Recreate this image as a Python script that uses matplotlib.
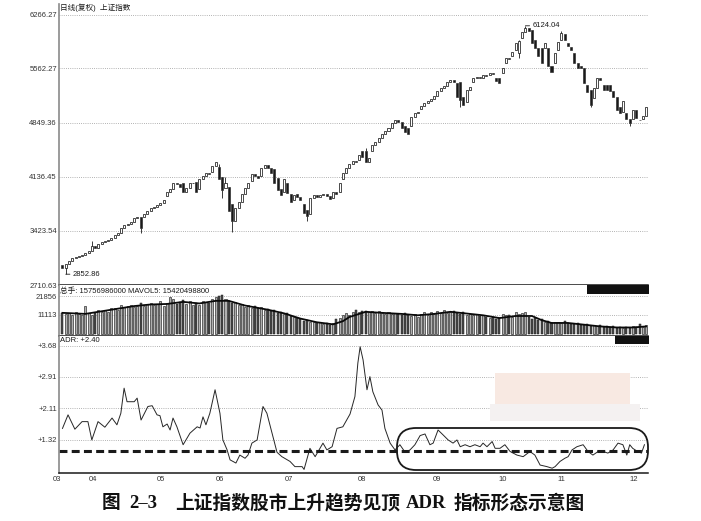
import numpy as np
import matplotlib.pyplot as plt
from matplotlib.patches import FancyBboxPatch, Rectangle

plt.rcParams['font.family'] = ['Liberation Sans', 'Noto Sans CJK SC', 'DejaVu Sans']

# daily candles, Shanghai Composite
opens = [2980, 2930, 2990, 3030, 3060, 3080, 3095, 3110, 3130, 3160,
         3230, 3200, 3250, 3275, 3290, 3300, 3330, 3370, 3400, 3460,
         3500, 3520, 3545, 3590, 3600, 3600, 3640, 3690, 3720, 3740,
         3760, 3790, 3880, 3930, 3980, 4050, 4040, 4050, 3940, 3990,
         4050, 4070, 3980, 4100, 4150, 4180, 4200, 4280, 4260, 4130,
         3990, 4000, 3780, 3560, 3730, 3800, 3910, 3990, 4080, 4170,
         4150, 4150, 4250, 4290, 4250, 4240, 4120, 3980, 3930, 4050,
         3910, 3830, 3910, 3870, 3780, 3700, 3650, 3860, 3890, 3870,
         3890, 3910, 3880, 3850, 3930, 3930, 4110, 4190, 4250, 4300,
         4350, 4360, 4470, 4480, 4330, 4480, 4560, 4600, 4650, 4700,
         4740, 4780, 4840, 4880, 4860, 4800, 4780, 4800, 4920, 4970,
         5030, 5070, 5110, 5140, 5160, 5200, 5260, 5300, 5330, 5380,
         5410, 5370, 5380, 5180, 5120, 5276, 5380, 5434, 5448, 5440,
         5474, 5470, 5500, 5440, 5430, 5500, 5640, 5700, 5720, 5800,
         5760, 5960, 6040, 6100, 6070, 5935, 5830, 5830, 5830, 5830,
         5600, 5640, 5800, 5935, 6020, 5900, 5840, 5760, 5630, 5600,
         5570, 5340, 5276, 5170, 5300, 5430, 5340, 5340, 5340, 5260,
         5180, 5050, 4985, 4970, 4900, 4900, 5010, 4890, 4900, 4940]
closes = [2930, 2990, 3030, 3060, 3080, 3095, 3110, 3130, 3160, 3230,
          3200, 3250, 3275, 3290, 3300, 3330, 3370, 3400, 3460, 3500,
          3520, 3545, 3590, 3610, 3460, 3640, 3690, 3720, 3740, 3760,
          3790, 3830, 3930, 3980, 4050, 4040, 4000, 3930, 3990, 4050,
          4060, 3940, 4100, 4150, 4180, 4170, 4280, 4330, 4100, 3960,
          4050, 3680, 3560, 3730, 3800, 3910, 3990, 4060, 4170, 4150,
          4120, 4250, 4290, 4250, 4190, 4060, 3960, 3890, 4100, 3920,
          3800, 3890, 3870, 3830, 3660, 3620, 3860, 3890, 3870, 3890,
          3910, 3880, 3840, 3930, 3910, 4060, 4190, 4250, 4300, 4350,
          4330, 4420, 4390, 4330, 4380, 4560, 4600, 4650, 4700, 4740,
          4780, 4840, 4880, 4860, 4780, 4720, 4700, 4920, 4970, 4990,
          5070, 5110, 5140, 5160, 5200, 5260, 5300, 5330, 5380, 5410,
          5390, 5180, 5150, 5080, 5276, 5316, 5434, 5448, 5430, 5474,
          5460, 5500, 5490, 5400, 5370, 5570, 5700, 5690, 5780, 5896,
          5930, 6040, 6090, 6060, 5900, 5830, 5720, 5640, 5896, 5590,
          5520, 5760, 5910, 6030, 5940, 5860, 5800, 5640, 5570, 5570,
          5370, 5250, 5080, 5300, 5430, 5408, 5276, 5280, 5260, 5180,
          5010, 4970, 5140, 4900, 4840, 5010, 4910, 4880, 4940, 5050]
# visible shadows (day index -> price)
wick_high = {9: 3290, 47: 4335, 48: 4300, 50: 4136, 93: 4510,
             140: 5935, 142: 6124.04, 153: 6050}
wick_low = {1: 2852.86, 24: 3390, 49: 3860, 52: 3404, 75: 3560,
            122: 5050, 140: 5700, 162: 5060, 174: 4800}

volumes = [12500, 11800, 12200, 11000, 12800, 11500, 10800, 16500, 12000, 11200,
           12500, 13800, 12900, 14200, 13000, 14800, 15200, 14000, 16800, 15500,
           16200, 17000, 15800, 16500, 18200, 16000, 17300, 18000, 16800, 17500,
           19000, 16500, 18200, 21500, 20500, 17200, 18800, 19500, 17600, 18900,
           17000, 18200, 16800, 19200, 18500, 17800, 20000, 21500, 21800, 22500,
           20500, 19000, 17800, 18600, 16900, 17500, 15800, 16900, 15200, 16000,
           14800, 15600, 13900, 14500, 13200, 14000, 12500, 12800, 11600, 12200,
           10500, 9800, 9200, 8600, 7800, 8200, 6800, 7300, 6400, 6900,
           5800, 6200, 5400, 6500, 8800, 9500, 11200, 12500, 10800, 13000,
           14200, 12600, 13500, 13300, 12900, 13600, 12200, 13100, 12500, 11800,
           12600, 11500, 12300, 11900, 10800, 12400, 11200, 10600, 11500, 10200,
           11800, 12900, 11000, 12600, 11900, 13400, 12200, 13800, 12500, 12900,
           13500, 12000, 11400, 12600, 11200, 11800, 10900, 11500, 10400, 11000,
           10200, 9500, 9800, 8600, 9200, 11800, 10800, 11200, 10000, 12800,
           11500, 12500, 12600, 9800, 8800, 9400, 8200, 8900, 7200, 7800,
           6400, 7100, 6800, 6200, 7500, 6600, 6000, 5800, 6300, 5500,
           5200, 5800, 4900, 5400, 4600, 5100, 4400, 4800, 4100, 4500,
           3800, 4200, 3600, 4000, 3500, 4700, 4200, 5800, 4400, 5200]
ma_day = [0, 7, 12, 17, 22, 27, 32, 37, 42, 47,
          51, 56, 63, 68, 73, 78, 83, 86, 88, 93,
          98, 104, 109, 114, 119, 124, 129, 134, 139, 144,
          147, 150, 155, 160, 165, 170, 175, 179]
ma_val = [12300, 11700, 13200, 14700, 16200, 17100, 17400, 18600, 17700, 19200,
          19200, 16500, 14100, 12000, 9000, 6900, 5700, 7500, 9900, 12900,
          12300, 11700, 10900, 11700, 12900, 11900, 10900, 9300, 10500, 10500,
          8100, 6500, 6500, 5500, 4500, 3900, 3900, 4500]

adr_day = [0, 1.7, 3.8, 6.0, 7.8, 9.0, 10.9, 13.0, 15.2, 16.7,
           17.9, 18.9, 19.8, 22.0, 22.9, 24.1, 26.2, 27.5, 29.0, 29.9,
           30.8, 32.1, 33.0, 33.9, 35.1, 37.0, 39.1, 41.3, 42.2, 43.1,
           44.0, 45.2, 46.8, 48.3, 49.2, 50.5, 51.4, 53.2, 54.4, 56.0,
           56.9, 58.1, 59.7, 61.5, 62.7, 65.8, 67.3, 69.8, 71.3, 73.5,
           74.1, 75.9, 77.5, 79.9, 81.1, 82.7, 84.2, 86.0, 88.2, 89.7,
           90.6, 91.3, 92.2, 93.4, 94.3, 95.2, 96.8, 98.0, 98.9, 100.5,
           102.0, 103.5, 105.1, 106.6, 108.1, 109.7, 111.2, 112.7, 113.7, 115.2,
           116.7, 118.3, 119.8, 121.0, 122.0, 123.5, 125.0, 126.5, 128.1, 129.0,
           130.2, 131.8, 132.7, 134.2, 135.7, 137.3, 139.4, 141.3, 143.4, 144.9,
           146.5, 148.6, 150.2, 151.1, 152.6, 154.1, 155.1, 156.3, 157.8, 159.7,
           161.2, 162.7, 164.3, 165.8, 167.3, 168.9, 170.4, 171.9, 173.1, 174.0,
           174.9, 176.4, 177.6, 178.5]
adr_val = [1.61, 1.95, 1.59, 1.78, 1.78, 1.32, 1.78, 1.64, 1.87, 1.70,
           1.99, 2.62, 2.28, 2.28, 2.37, 1.82, 2.16, 2.18, 1.95, 1.93,
           1.65, 1.72, 1.57, 1.87, 1.65, 1.20, 1.49, 1.65, 1.62, 1.90,
           1.70, 1.99, 2.58, 1.99, 1.32, 1.07, 0.82, 0.74, 0.94, 0.86,
           0.94, 1.24, 1.32, 2.16, 1.99, 1.01, 0.90, 0.78, 0.65, 0.65,
           0.58, 1.11, 0.90, 1.24, 1.07, 1.15, 1.61, 1.65, 1.97, 2.41,
           3.25, 3.66, 3.33, 2.58, 2.91, 2.53, 2.20, 2.07, 1.61, 1.24,
           1.07, 1.20, 1.01, 1.07, 1.20, 1.43, 1.47, 1.20, 1.24, 1.57,
           1.45, 1.32, 1.24, 1.32, 1.15, 1.20, 1.15, 1.20, 1.15, 1.24,
           1.15, 1.28, 1.11, 1.11, 1.20, 1.03, 0.94, 0.90, 1.03, 0.94,
           0.69, 0.65, 0.61, 0.65, 0.78, 0.86, 0.90, 1.07, 1.15, 1.20,
           1.03, 0.94, 1.03, 1.03, 0.99, 1.07, 1.24, 1.20, 0.94, 1.20,
           1.11, 1.03, 0.99, 1.20]
adr_ref = 1.04

price_ticks = [2710.63, 3423.54, 4136.45, 4849.36, 5562.27, 6266.27]
vol_ticks = [11113, 21856]
adr_ticks = [1.32, 2.11, 2.91, 3.68]
month_pos = [-1.7, 9.4, 30.2, 48.3, 69.5, 91.9, 114.9, 135.1, 152.9, 175.3]
month_lab = ['03', '04', '05', '06', '07', '08', '09', '10', '11', '12']

W, H = 701, 521
INK = '#1a1a1a'
fig = plt.figure(figsize=(W / 100, H / 100), dpi=100)


def px_rect(l, t, r, b):
    return [l / W, 1 - b / H, (r - l) / W, (b - t) / H]


ax1 = fig.add_axes(px_rect(59, 4, 648, 285))
ax2 = fig.add_axes(px_rect(59, 285, 648, 336))
ax3 = fig.add_axes(px_rect(59, 336, 648, 473))

for ax in (ax1, ax2, ax3):
    ax.set_xlim(-1.07, 179.6)
    ax.set_xticks([])
    ax.spines['top'].set_visible(False)
    ax.spines['right'].set_visible(False)
    ax.spines['left'].set_color('#8a8a8a')
    ax.spines['left'].set_linewidth(1.2)
    ax.spines['bottom'].set_color(INK)
    ax.spines['bottom'].set_linewidth(1.1)
    ax.tick_params(axis='y', length=0, pad=1.5, labelsize=5.5, labelcolor='#333333')
    ax.yaxis.grid(True, linestyle=(0, (1, 1.6)), color='#9a9a9a', linewidth=0.6)
    ax.set_axisbelow(True)

# price panel
o = np.array(opens, dtype=float)
c = np.array(closes, dtype=float)
days = np.arange(len(c))
up = c >= o
lo = np.minimum(o, c)
hgt = np.abs(c - o)
for k, v in wick_high.items():
    ax1.vlines(k, max(o[k], c[k]), v, color=INK, linewidth=0.6)
for k, v in wick_low.items():
    ax1.vlines(k, v, min(o[k], c[k]), color=INK, linewidth=0.6)
ax1.bar(days[up], hgt[up], bottom=lo[up], width=0.62, facecolor='white',
        edgecolor=INK, linewidth=0.55)
ax1.bar(days[~up], hgt[~up], bottom=lo[~up], width=0.62, color=INK,
        edgecolor=INK, linewidth=0.4)
ax1.set_ylim(2710.63, 6411)
ax1.set_yticks(price_ticks)
ax1.set_yticklabels([f'{t:.2f}' for t in price_ticks])
ax1.annotate('6124.04', xy=(142, 6124.04), xytext=(5, 0), textcoords='offset points',
             fontsize=5.5, va='center', color=INK,
             arrowprops=dict(arrowstyle='-', color=INK, lw=0.6, shrinkA=0, shrinkB=0))
ax1.annotate('2852.86', xy=(1, 2852.86), xytext=(5, 0), textcoords='offset points',
             fontsize=5.5, va='center', color=INK,
             arrowprops=dict(arrowstyle='-', color=INK, lw=0.6, shrinkA=0, shrinkB=0))
fig.text(60 / W, 1 - 8 / H, '日线(复权)  上证指数', fontsize=5.5, va='center', color=INK)

# volume panel: up days light, down days dark
vol = np.array(volumes, dtype=float)
ax2.bar(days[up], vol[up], width=0.62, facecolor='#b0b0b0', edgecolor='#1e1e1e', linewidth=0.45)
ax2.bar(days[~up], vol[~up], width=0.62, facecolor='#4a4a4a', edgecolor='#1e1e1e', linewidth=0.35)
ax2.plot(ma_day, ma_val, color='#0a0a0a', linewidth=1.3, zorder=5)
ax2.set_ylim(-1000, 28300)
ax2.set_yticks(vol_ticks)
ax2.set_yticklabels([str(t) for t in vol_ticks])
fig.text(60 / W, 1 - 291 / H, '总手: 15756986000 MAVOL5: 15420498800',
         fontsize=5.5, va='center', color=INK)

# ADR panel
ax3.plot(adr_day, adr_val, color='#262626', linewidth=0.7)
ax3.axhline(adr_ref, color=INK, linewidth=2.2, linestyle=(0, (2.6, 1.4)))
ax3.set_ylim(0.49, 3.93)
ax3.set_yticks(adr_ticks)
ax3.set_yticklabels([f'+{t:.2f}' for t in adr_ticks])
fig.text(60 / W, 1 - 341 / H, 'ADR: +2.40', fontsize=5.5, va='center', color=INK)
for d, lab in zip(month_pos, month_lab):
    ax3.text(d, -0.045, lab, transform=ax3.get_xaxis_transform(), ha='center',
             va='center', fontsize=5.5, color='#333333', clip_on=False)

# decorations: rounded highlight box, label plates, smudge
inch = fig.dpi_scale_trans
fig.add_artist(FancyBboxPatch((3.97, 0.51), 2.51, 0.42,
                              boxstyle='round,pad=0,rounding_size=0.19',
                              transform=inch, fill=False, edgecolor=INK, linewidth=1.3))
fig.add_artist(Rectangle((5.87, (H - 294) / 100), 0.62, 0.09, transform=inch,
                         facecolor='#111111', edgecolor='none'))
fig.add_artist(Rectangle((6.15, (H - 344) / 100), 0.34, 0.08, transform=inch,
                         facecolor='#111111', edgecolor='none'))
fig.add_artist(Rectangle((4.95, (H - 404) / 100), 1.35, 0.31, transform=inch,
                         facecolor='#f8e9e2', edgecolor='none'))
fig.add_artist(Rectangle((4.9, (H - 421) / 100), 1.5, 0.17, transform=inch,
                         facecolor='#f4f1f1', edgecolor='none'))

# caption, laid out piece by piece (Chinese in a bold sans, Latin in a bold serif)
cjk = ['Noto Sans CJK SC', 'DejaVu Sans']
serif = ['Liberation Serif', 'DejaVu Serif']
pieces = [('图', cjk, 8), ('2–3', serif, 18), ('上证指数股市上升趋势见顶', cjk, 6),
          ('ADR', serif, 7), ('指标形态示意图', cjk, 0)]
renderer = fig.canvas.get_renderer()
x = 102
for s, fam, gap in pieces:
    t = fig.text(x / W, 1 - 503 / H, s, family=fam, fontweight='bold', fontsize=13.5,
                 va='center', color='#111111')
    x += t.get_window_extent(renderer).width + gap

fig.savefig('out.png', dpi=100)
